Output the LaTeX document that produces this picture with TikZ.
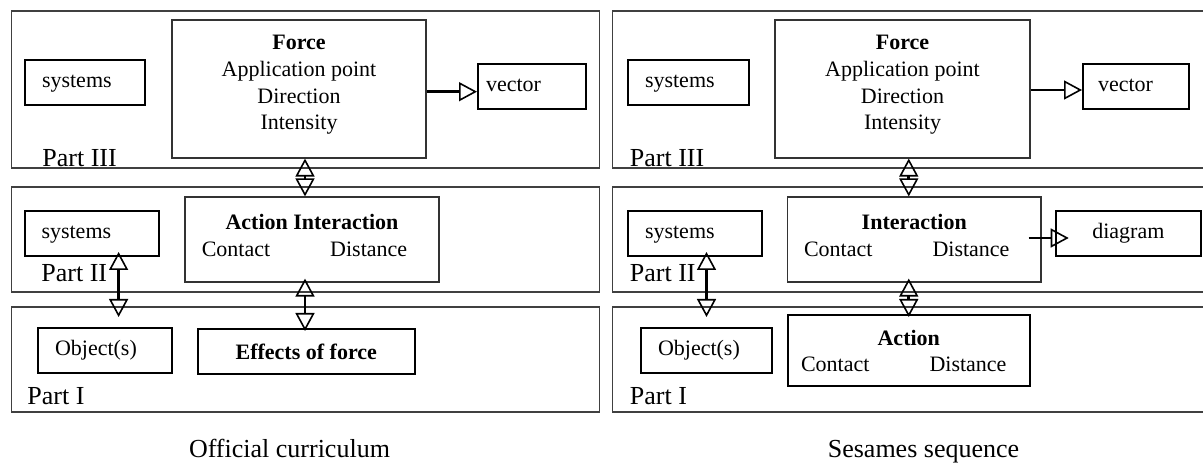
\documentclass[tikz,border=0pt]{standalone}
\usepackage{fontspec}
\setmainfont{Liberation Serif}
\usetikzlibrary{arrows.meta}

\begin{document}
\begin{tikzpicture}[x=0.5pt,y=-0.5pt,>={Triangle[open,length=9pt,width=9.5pt,line width=0.8pt]},
  frame/.style={draw=black!75,line width=0.7pt},
  part/.style={font=\fontsize{13}{15}\selectfont,anchor=base west,inner sep=0pt},
  caption/.style={font=\fontsize{13}{15}\selectfont,anchor=base,inner sep=0pt},
  big box/.style={draw=black!80,line width=0.6pt,minimum height=#1},
  small box/.style={draw,line width=1pt,minimum height=22.5pt,align=left,inner xsep=8.5pt,text width=#1,
    text height=7.5pt,text depth=2.4pt,font=\fontsize{11}{13.35}\selectfont},
  box text/.style={font=\fontsize{11}{13.35}\selectfont,align=center,inner sep=0pt},
  link/.style={line width=1.3pt}]

  \clip (0,0) rectangle (1203,464);

  % frames of the three parts
  \draw[frame] (11.5,11) rectangle (599.3,168);
  \draw[frame] (11.5,187) rectangle (599.3,292);
  \draw[frame] (11.5,307) rectangle (599.3,412);
  \draw[frame] (612.7,11) rectangle (1215,168);
  \draw[frame] (612.7,187) rectangle (1215,292);
  \draw[frame] (612.7,307) rectangle (1215,412);

  \node[part] (pIIIL) at (42,167) {Part III};
  \node[part] (pIIL) at (41,282) {Part II};
  \node[part] (pIL) at (27,404) {Part I};
  \node[part] (pIIIR) at (629.5,167) {Part III};
  \node[part] (pIIR) at (629.5,282) {Part II};
  \node[part] (pIR) at (629.5,404) {Part I};

  % official curriculum
  \node[small box=43pt,minimum width=60pt] (sysIIIL) at (85,82.5) {systems};
  \node[big box=69pt,minimum width=127pt,
    label={[box text,anchor=north,yshift=-7.7pt]north:{\textbf{Force}\\Application point\\Direction\\Intensity}}]
    (forceL) at (299,89) {};
  \node[small box=45.75pt,inner xsep=4pt,minimum width=53.75pt] (vectorL) at (531.75,86.5) {vector};
  \node[small box=50.25pt,minimum width=67.25pt] (sysIIL) at (91.75,233.5) {systems};
  \node[big box=42.5pt,minimum width=127pt,
    label={[box text,anchor=north,yshift=-8.7pt]north:{\textbf{Action Interaction}\\Contact\hspace{30pt}Distance\hspace*{7.5pt}}}]
    (interL) at (312,239.5) {};
  \node[small box=50pt,minimum width=67pt] (objL) at (105,350.5) {Object(s)};
  \node[draw,line width=1pt,minimum width=108.25pt,minimum height=22.5pt,
    font=\fontsize{11}{13.35}\selectfont\bfseries] (effL) at (306.25,351.5) {Effects of force};

  \coordinate (axL) at (305,0);
  \coordinate (axSL) at (118.6,0);
  \draw[link,->] ([yshift=-1.35pt]forceL.east) -- ([yshift=-1.35pt]forceL.east -| vectorL.west);
  \draw[link,<->] (forceL.south -| axL) -- (interL.north -| axL);
  \draw[link,<->,shorten <=-2pt,shorten >=-1.5pt] (interL.south -| axL) -- (effL.north -| axL);
  \draw[link,<->,shorten <=-2.5pt,shorten >=5pt] (sysIIL.south -| axSL) -- (objL.north -| axSL);

  % sesames sequence
  \node[small box=43.5pt,minimum width=60.5pt] (sysIIIR) at (688.5,82.5) {systems};
  \node[big box=69pt,minimum width=127.5pt,
    label={[box text,anchor=north,yshift=-7.7pt]north:{\textbf{Force}\\Application point\\Direction\\Intensity}}]
    (forceR) at (902.5,89) {};
  \node[small box=38pt,inner xsep=7.5pt,minimum width=53pt] (vectorR) at (1136,86.5) {vector};
  \node[small box=49.75pt,minimum width=66.75pt] (sysIIR) at (694.75,233.5) {systems};
  \node[big box=42.5pt,minimum width=126.75pt,
    label={[box text,anchor=north,yshift=-8.7pt]north:{\textbf{Interaction}\\Contact\hspace{30pt}Distance\hspace*{7.5pt}}}]
    (interR) at (914.25,239.5) {};
  \node[draw,line width=1pt,minimum width=72.65pt,minimum height=22.5pt,
    font=\fontsize{11}{13.35}\selectfont] (diagram) at (1128.35,233.5) {diagram};
  \node[small box=48.5pt,minimum width=65.5pt] (objR) at (706.5,350.5) {Object(s)};
  \node[draw,line width=1pt,minimum width=121.25pt,minimum height=35.5pt,
    label={[box text,anchor=north,yshift=-7.7pt]north:{\textbf{Action}\\Contact\hspace{30pt}Distance\hspace*{5pt}}}]
    (actR) at (908.75,350.5) {};

  \draw[link,->] ([yshift=-0.5pt]forceR.east) -- ([yshift=-0.5pt]forceR.east -| vectorR.west);
  \draw[link,->,shorten <=-6.5pt,shorten >=-7pt] ([yshift=0.75pt]interR.east) -- ([yshift=0.75pt]interR.east -| diagram.west);
  \draw[link,<->] (forceR.south -| actR) -- (interR.north -| actR);
  \draw[link,<->,shorten <=-2pt,shorten >=-1.5pt] (interR.south -| actR) -- (actR.north);
  \draw[link,<->,shorten <=-2.5pt,shorten >=5pt] (sysIIR.south -| objR) -- (objR.north);

  \node[caption] (capL) at (289.5,457) {Official curriculum};
  \node[caption] (capR) at (923.5,457) {Sesames sequence};
\end{tikzpicture}
\end{document}
